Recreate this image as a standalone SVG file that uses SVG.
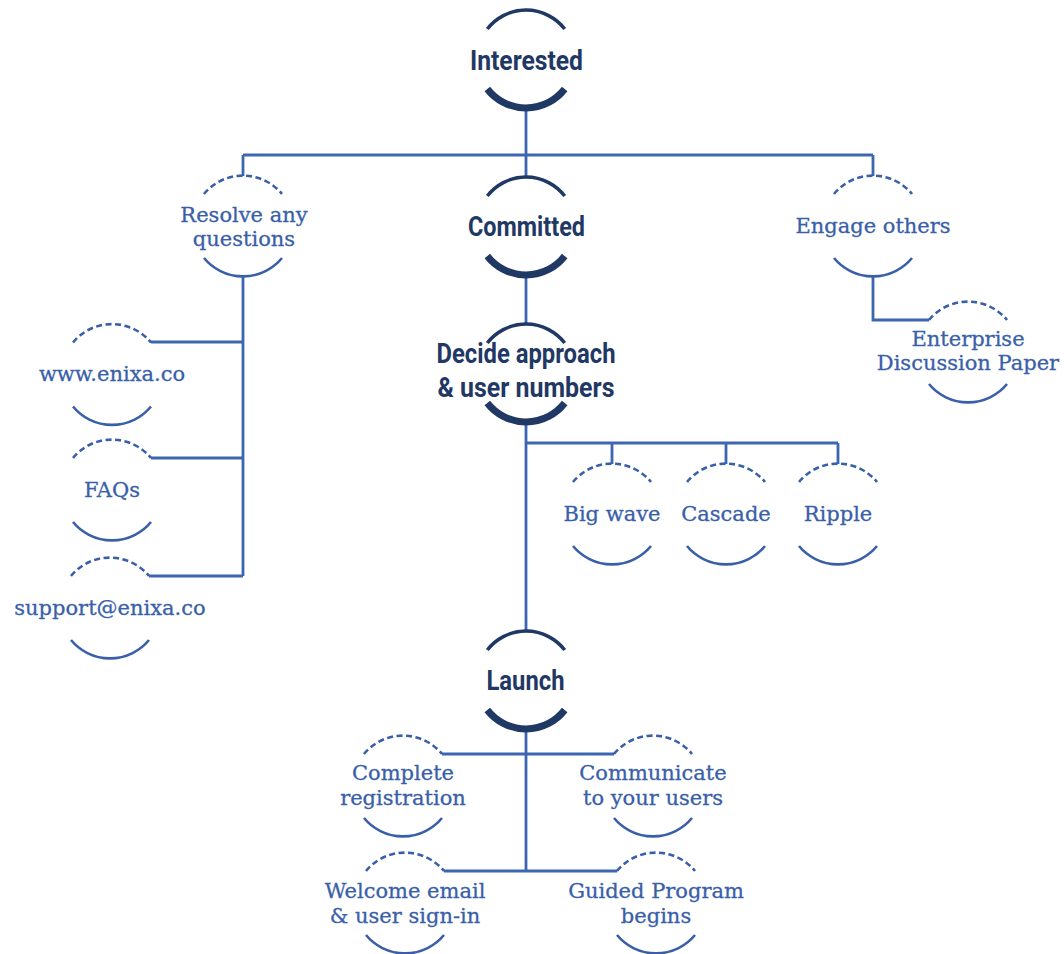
<svg xmlns="http://www.w3.org/2000/svg" width="1064" height="954" viewBox="0 0 1064 954">
<style>
.main-t{font-family:Roboto,"Liberation Sans",sans-serif;font-weight:700;font-size:28px;fill:#1f3864;text-anchor:middle}
.sub-t{font-family:"DejaVu Serif","Liberation Serif",serif;font-size:21px;fill:#3a5fa9;stroke:#3a5fa9;stroke-width:0.3;text-anchor:middle}
.mtop{fill:none;stroke:#1f3864;stroke-width:3.5}
.mbot{fill:none;stroke:#1f3864;stroke-width:7}
.stop{fill:none;stroke:#3a5fa9;stroke-width:2.6;stroke-dasharray:6 3.5}
.sbot{fill:none;stroke:#3a5fa9;stroke-width:2.6}
.conn{fill:none;stroke:#3d66b2;stroke-width:2.8}
</style>
<rect width="1064" height="954" fill="#ffffff"/>
<g id="connectors">
<path class="conn" d="M526 110 V177 M243 155 H873 M243 155 V176 M873 155 V176"/>
<path class="conn" d="M526 276 V324"/>
<path class="conn" d="M243 276 V576 M243 342 H151 M243 458 H151 M243 576 H149"/>
<path class="conn" d="M873 276 V320 H929"/>
<path class="conn" d="M526 423 V631 M526 443 H838 M612 443 V464 M726 443 V464 M838 443 V464"/>
<path class="conn" d="M526 730 V871 M442 754 H614 M444 871 H617"/>
</g>
<g id="interested">
<path class="mtop" d="M487.3 29 A49 49 0 0 1 564.7 29"/>
<path class="mbot" d="M487.3 89 A49 49 0 0 0 564.7 89"/>
<text class="main-t" x="526.5" y="70" textLength="113" lengthAdjust="spacingAndGlyphs">Interested</text>
</g>
<g id="committed">
<path class="mtop" d="M487.3 196 A49 49 0 0 1 564.7 196"/>
<path class="mbot" d="M487.3 256 A49 49 0 0 0 564.7 256"/>
<text class="main-t" x="526.5" y="236" textLength="117" lengthAdjust="spacingAndGlyphs">Committed</text>
</g>
<g id="decide">
<path class="mtop" d="M487.3 343 A49 49 0 0 1 564.7 343"/>
<path class="mbot" d="M487.3 403 A49 49 0 0 0 564.7 403"/>
<text class="main-t" x="526" y="363" textLength="179" lengthAdjust="spacingAndGlyphs">Decide approach</text>
<text class="main-t" x="526" y="397" textLength="177" lengthAdjust="spacingAndGlyphs">&amp; user numbers</text>
</g>
<g id="launch">
<path class="mtop" d="M487.3 650 A49 49 0 0 1 564.7 650"/>
<path class="mbot" d="M487.3 710 A49 49 0 0 0 564.7 710"/>
<text class="main-t" x="525.5" y="690" textLength="78" lengthAdjust="spacingAndGlyphs">Launch</text>
</g>
<g id="resolve">
<path class="stop" d="M204 194 A50.5 50.5 0 0 1 282 194"/>
<path class="sbot" d="M204 258 A50.5 50.5 0 0 0 282 258"/>
<text class="sub-t" x="244" y="222">Resolve any</text>
<text class="sub-t" x="244" y="246">questions</text>
</g>
<g id="engage">
<path class="stop" d="M834 194 A50.5 50.5 0 0 1 912 194"/>
<path class="sbot" d="M834 258 A50.5 50.5 0 0 0 912 258"/>
<text class="sub-t" x="873" y="233">Engage others</text>
</g>
<g id="enterprise">
<path class="stop" d="M929 320 A50.5 50.5 0 0 1 1007 320"/>
<path class="sbot" d="M929 384 A50.5 50.5 0 0 0 1007 384"/>
<text class="sub-t" x="968" y="346">Enterprise</text>
<text class="sub-t" x="968" y="370">Discussion Paper</text>
</g>
<g id="www">
<path class="stop" d="M73 342.5 A50.5 50.5 0 0 1 151 342.5"/>
<path class="sbot" d="M73 406.5 A50.5 50.5 0 0 0 151 406.5"/>
<text class="sub-t" x="112" y="381">www.enixa.co</text>
</g>
<g id="faqs">
<path class="stop" d="M73 458 A50.5 50.5 0 0 1 151 458"/>
<path class="sbot" d="M73 522 A50.5 50.5 0 0 0 151 522"/>
<text class="sub-t" x="112" y="497">FAQs</text>
</g>
<g id="support">
<path class="stop" d="M71 576 A50.5 50.5 0 0 1 149 576"/>
<path class="sbot" d="M71 640 A50.5 50.5 0 0 0 149 640"/>
<text class="sub-t" x="110" y="615">support@enixa.co</text>
</g>
<g id="bigwave">
<path class="stop" d="M573 482 A50.5 50.5 0 0 1 651 482"/>
<path class="sbot" d="M573 546 A50.5 50.5 0 0 0 651 546"/>
<text class="sub-t" x="612" y="521">Big wave</text>
</g>
<g id="cascade">
<path class="stop" d="M687 482 A50.5 50.5 0 0 1 765 482"/>
<path class="sbot" d="M687 546 A50.5 50.5 0 0 0 765 546"/>
<text class="sub-t" x="726" y="521">Cascade</text>
</g>
<g id="ripple">
<path class="stop" d="M799 482 A50.5 50.5 0 0 1 877 482"/>
<path class="sbot" d="M799 546 A50.5 50.5 0 0 0 877 546"/>
<text class="sub-t" x="838" y="521">Ripple</text>
</g>
<g id="complete">
<path class="stop" d="M364 754 A50.5 50.5 0 0 1 442 754"/>
<path class="sbot" d="M364 818 A50.5 50.5 0 0 0 442 818"/>
<text class="sub-t" x="403" y="780">Complete</text>
<text class="sub-t" x="403" y="805">registration</text>
</g>
<g id="communicate">
<path class="stop" d="M614 754 A50.5 50.5 0 0 1 692 754"/>
<path class="sbot" d="M614 818 A50.5 50.5 0 0 0 692 818"/>
<text class="sub-t" x="653" y="780">Communicate</text>
<text class="sub-t" x="653" y="805">to your users</text>
</g>
<g id="welcome">
<path class="stop" d="M366 871 A50.5 50.5 0 0 1 444 871"/>
<path class="sbot" d="M366 935 A50.5 50.5 0 0 0 444 935"/>
<text class="sub-t" x="405" y="898">Welcome email</text>
<text class="sub-t" x="405" y="923">&amp; user sign-in</text>
</g>
<g id="guided">
<path class="stop" d="M617 871 A50.5 50.5 0 0 1 695 871"/>
<path class="sbot" d="M617 935 A50.5 50.5 0 0 0 695 935"/>
<text class="sub-t" x="656" y="898">Guided Program</text>
<text class="sub-t" x="656" y="923">begins</text>
</g>
</svg>
